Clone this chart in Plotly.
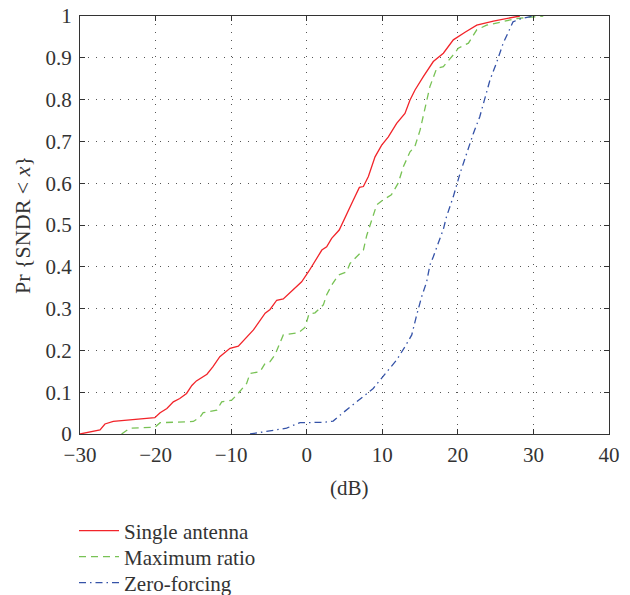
import plotly.graph_objects as go

series_names = ["Single antenna", "Maximum ratio", "Zero-forcing"]

single_x = [-30, -27.35, -26.7, -25.6, -20.1, -19.4, -18.5, -17.65, -16.8, -15.9, -15.2, -14.6,
            -13.2, -12.4, -11.5, -10.15, -9.05, -7.05, -5.5, -4.85, -3.97, -3.1, -1.8, -0.67,
            0.3, 1.1, 2.0, 2.64, 3.3, 4.3, 5.07, 6.17, 6.97, 7.5, 8.16, 9.04, 9.92, 10.8,
            11.9, 13.0, 13.67, 14.33, 15.43, 16.75, 18.08, 19.4, 20.95, 22.5, 24.7, 27.3, 28.2]
single_y = [0, 0.01, 0.024, 0.03, 0.039, 0.051, 0.061, 0.077, 0.085, 0.097, 0.116, 0.127,
            0.143, 0.161, 0.185, 0.205, 0.21, 0.249, 0.289, 0.298, 0.32, 0.323, 0.345, 0.364,
            0.39, 0.412, 0.44, 0.448, 0.468, 0.488, 0.516, 0.56, 0.59, 0.592, 0.616, 0.663, 0.691, 0.711,
            0.743, 0.767, 0.799, 0.823, 0.855, 0.891, 0.911, 0.943, 0.961, 0.978, 0.988, 0.997, 1.0]

maxratio_x = [-24.5, -23.4, -20.1, -19.4, -15.0, -14.1, -13.7, -11.9, -11.25, -9.93, -9.27, -7.95,
              -7.5, -6.18, -5.5, -4.86, -4.2, -3.1, -1.1, -0.23, 0.3, 1.1, 2.2, 2.64, 3.3, 4.18,
              5.28, 5.73, 6.6, 7.5, 7.94, 8.5, 9.26, 10.1, 11.2, 12.1, 12.8, 13.67, 14.3, 15.0,
              15.65, 16.3, 17.2, 18.08, 19.4, 20.06, 21.4, 22.5, 23.8, 25.6, 27.8, 31.3]
maxratio_y = [0, 0.014, 0.016, 0.027, 0.03, 0.041, 0.051, 0.057, 0.077, 0.081, 0.093, 0.121,
              0.145, 0.149, 0.169, 0.173, 0.189, 0.237, 0.242, 0.255, 0.287, 0.29, 0.309, 0.333, 0.356, 0.38,
              0.388, 0.408, 0.424, 0.44, 0.475, 0.506, 0.548, 0.56, 0.572, 0.6, 0.64, 0.675, 0.687, 0.727,
              0.783, 0.831, 0.875, 0.879, 0.907, 0.923, 0.935, 0.967, 0.978, 0.986, 0.994, 1.0]

zf_x = [-7.5, -5.3, -2.66, -1.34, -0.89, 2.2, 3.5, 4.4, 5.73, 7.05, 7.94, 8.8, 9.7, 10.8, 11.9,
        13.0, 13.9, 14.5, 15.2, 15.87, 16.3, 16.75, 17.4, 18.08, 18.5, 19.4, 20.3, 21.2, 22.05,
        22.9, 23.6, 24.25, 25.1, 26.0, 26.7, 27.3, 28.4, 29.8, 30.0]
zf_y = [0, 0.006, 0.014, 0.024, 0.027, 0.028, 0.031, 0.045, 0.065, 0.085, 0.097, 0.109, 0.129, 0.153, 0.177,
        0.209, 0.237, 0.281, 0.328, 0.364, 0.404, 0.424, 0.456, 0.49, 0.52, 0.568, 0.624, 0.675, 0.719,
        0.759, 0.807, 0.847, 0.887, 0.935, 0.962, 0.986, 0.994, 0.998, 1.0]

x_ticks = [-30, -20, -10, 0, 10, 20, 30, 40]
y_ticks = [0, 0.1, 0.2, 0.3, 0.4, 0.5, 0.6, 0.7, 0.8, 0.9, 1]

FONT = "Liberation Serif"
TXT = "#333"

# plot area in pixels: x 80..609, y 16..434
W, H = 630, 595
L, R, T, B = 80, 21, 16, 161
PW, PH = W - L - R, H - T - B


def px_to_paper_x(px):
    return (px - L) / PW


def py_to_paper_y(py):
    return (H - B - py) / PH


fig = go.Figure()
fig.add_trace(go.Scatter(x=single_x, y=single_y, mode="lines", name=series_names[0],
                         line=dict(color="#f2242a", width=1.3), legend="legend"))
fig.add_trace(go.Scatter(x=maxratio_x, y=maxratio_y, mode="lines", name=series_names[1],
                         line=dict(color="#78c255", width=1.3, dash="7px,5px"), legend="legend2"))
fig.add_trace(go.Scatter(x=zf_x, y=zf_y, mode="lines", name=series_names[2],
                         line=dict(color="#3553a8", width=1.3, dash="7px,4px,1.5px,4px"), legend="legend3"))

axis_common = dict(showline=True, linecolor="#333", linewidth=1.3, mirror="ticks",
                   ticks="inside", ticklen=5, tickcolor="#333", tickwidth=1,
                   showgrid=True, gridcolor="#555", gridwidth=1, griddash="1px,7px",
                   zeroline=False, automargin=False,
                   tickfont=dict(family=FONT, size=21, color=TXT))

fig.update_xaxes(range=[-30, 40], tickvals=x_ticks, ticklabelstandoff=2, **axis_common)
fig.update_yaxes(range=[0, 1], tickvals=y_ticks, ticklabelstandoff=3, **axis_common)


def legend_box(py):
    return dict(x=px_to_paper_x(74), y=py_to_paper_y(py), xanchor="left", yanchor="middle",
                bgcolor="rgba(0,0,0,0)", font=dict(family=FONT, size=21, color=TXT),
                itemwidth=40)


fig.update_layout(
    width=W, height=H,
    margin=dict(l=L, r=R, t=T, b=B, autoexpand=False),
    paper_bgcolor="white", plot_bgcolor="white",
    font=dict(family=FONT, size=21, color=TXT),
    showlegend=True,
    legend=legend_box(531),
    legend2=legend_box(557),
    legend3=legend_box(583),
    annotations=[
        dict(text="(dB)", xref="paper", yref="paper", x=px_to_paper_x(349), y=py_to_paper_y(488),
             xanchor="center", yanchor="middle", showarrow=False,
             font=dict(family=FONT, size=21, color=TXT)),
        dict(text="Pr {SNDR &lt; <i>x</i>}", xref="paper", yref="paper",
             x=px_to_paper_x(22), y=py_to_paper_y(225),
             xanchor="center", yanchor="middle", textangle=-90, showarrow=False,
             font=dict(family=FONT, size=22, color=TXT)),
    ],
)

fig.write_html("out.html", config={"displayModeBar": False},
               post_script="document.body.style.margin='0';document.body.style.overflow='hidden';")
